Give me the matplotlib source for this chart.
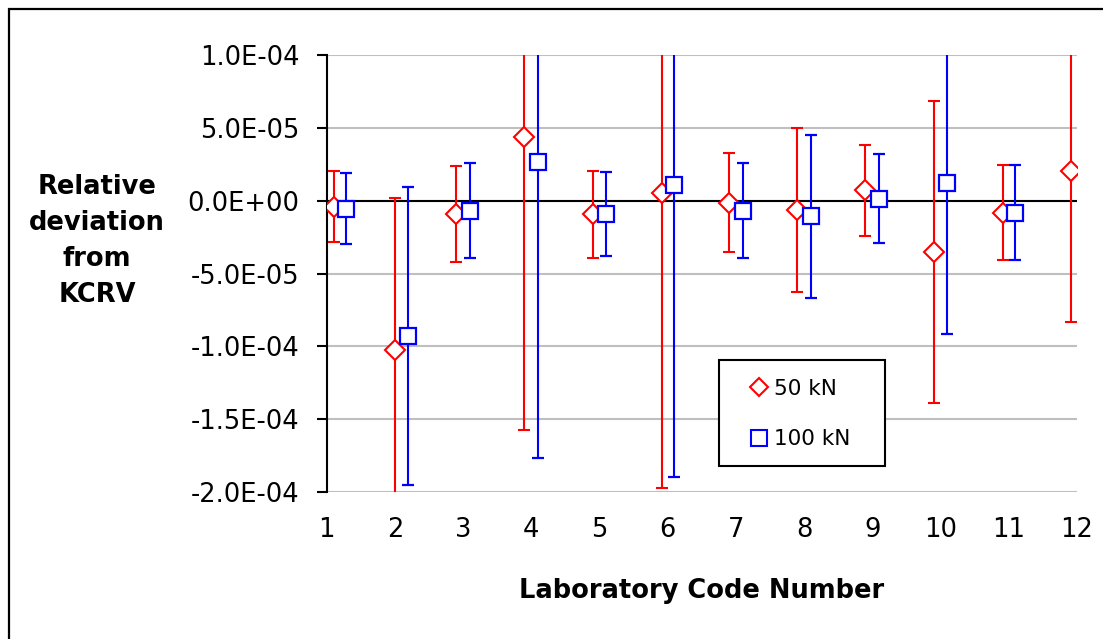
import matplotlib
matplotlib.use("Agg")
import matplotlib.pyplot as plt
from matplotlib.lines import Line2D
from matplotlib.patches import Rectangle

plt.rcParams['font.family'] = ['DejaVu Sans']

# Laboratory results, relative deviation from KCRV with expanded uncertainty
labs = list(range(1, 13))

x_50 = [1.1, 2.0, 2.9, 3.9, 4.9, 5.92, 6.9, 7.9, 8.9, 9.9, 10.92, 11.92]
dev_50 = [-4.1e-6, -1.025e-4, -9.3e-6, 4.37e-5, -9.3e-6, 5.3e-6,
          -1.4e-6, -6.6e-6, 7.1e-6, -3.52e-5, -8.2e-6, 2.06e-5]
unc_50 = [2.46e-5, 1.04e-4, 3.28e-5, 2.01e-4, 3.0e-5, 2.025e-4,
          3.4e-5, 5.62e-5, 3.14e-5, 1.035e-4, 3.28e-5, 1.04e-4]

x_100 = [1.28, 2.19, 3.1, 4.1, 5.1, 6.09, 7.11, 8.11, 9.1, 10.1, 11.1]
dev_100 = [-5.5e-6, -9.29e-5, -6.9e-6, 2.63e-5, -9.3e-6, 1.1e-5,
           -6.9e-6, -1.07e-5, 1.4e-6, 1.24e-5, -8.2e-6]
unc_100 = [2.45e-5, 1.025e-4, 3.25e-5, 2.03e-4, 2.87e-5, 2.01e-4,
           3.27e-5, 5.6e-5, 3.07e-5, 1.04e-4, 3.28e-5]

y_ticks = [1.0e-4, 5.0e-5, 0.0, -5.0e-5, -1.0e-4, -1.5e-4, -2.0e-4]
y_labels = ['1.0E-04', '5.0E-05', '0.0E+00', '-5.0E-05', '-1.0E-04', '-1.5E-04', '-2.0E-04']

W, H = 1103, 639
fig = plt.figure(figsize=(W / 100, H / 100), dpi=100)
ax = fig.add_axes([326.7 / W, 1 - 492 / H, 750 / W, 437 / H])

# outer chart frame
fig.patches.append(Rectangle((9 / W, -0.2), 1.5, 1.2 - 9 / H,
                             transform=fig.transFigure, fill=False,
                             edgecolor='black', linewidth=1.6))

ax.errorbar(x_50, dev_50, yerr=unc_50, fmt='D', color='red', ms=10,
            mfc='white', mec='red', mew=1.5, elinewidth=1.5, capsize=4.3,
            capthick=1.5, zorder=3)
ax.errorbar(x_100, dev_100, yerr=unc_100, fmt='s', color='blue', ms=11,
            mfc='white', mec='blue', mew=1.6, elinewidth=1.5, capsize=4.3,
            capthick=1.5, zorder=4)

ax.set_xlim(1, 12)
ax.set_ylim(-2.0e-4, 1.0e-4)
ax.set_yticks(y_ticks)
ax.set_yticklabels(y_labels, fontsize=18.5)
ax.set_xticks(labs)
ax.set_xticklabels([str(n) for n in labs], fontsize=18.5)

ax.grid(axis='y', color='#bfbfbf', linewidth=1.5, zorder=0)
ax.axhline(0, color='black', linewidth=1.5, zorder=2)

for side in ['top', 'right', 'bottom']:
    ax.spines[side].set_visible(False)
ax.spines['left'].set_linewidth(1.5)
ax.tick_params(axis='y', direction='out', length=7.5, width=1.5, pad=12)
ax.tick_params(axis='x', length=0, pad=18)

ax.set_xlabel('Laboratory Code Number', fontsize=18.5, fontweight='bold', labelpad=25)
fig.text(97 / W, 1 - 241 / H, 'Relative\ndeviation\nfrom\nKCRV', ha='center',
         va='center', fontsize=18.5, fontweight='bold', linespacing=1.5)

# legend box
ax.add_patch(Rectangle((719 / W, 1 - 466 / H), 166 / W, 106 / H,
                       transform=fig.transFigure, fill=True, facecolor='white',
                       edgecolor='black', linewidth=1.5, zorder=5, clip_on=False))
handles = [
    Line2D([], [], linestyle='none', marker='D', ms=9, mfc='white', mec='red', mew=1.5),
    Line2D([], [], linestyle='none', marker='s', ms=11, mfc='white', mec='blue', mew=1.5),
]
leg = ax.legend(handles, ['50 kN', '100 kN'], loc='center left',
                bbox_to_anchor=(749 / W, 1 - 414 / H), bbox_transform=fig.transFigure,
                fontsize=15.5, frameon=False, labelspacing=1.4,
                handlelength=0.9, handletextpad=0.25, borderpad=0, borderaxespad=0)
leg.set_zorder(6)

fig.savefig('out.png', dpi=100)
